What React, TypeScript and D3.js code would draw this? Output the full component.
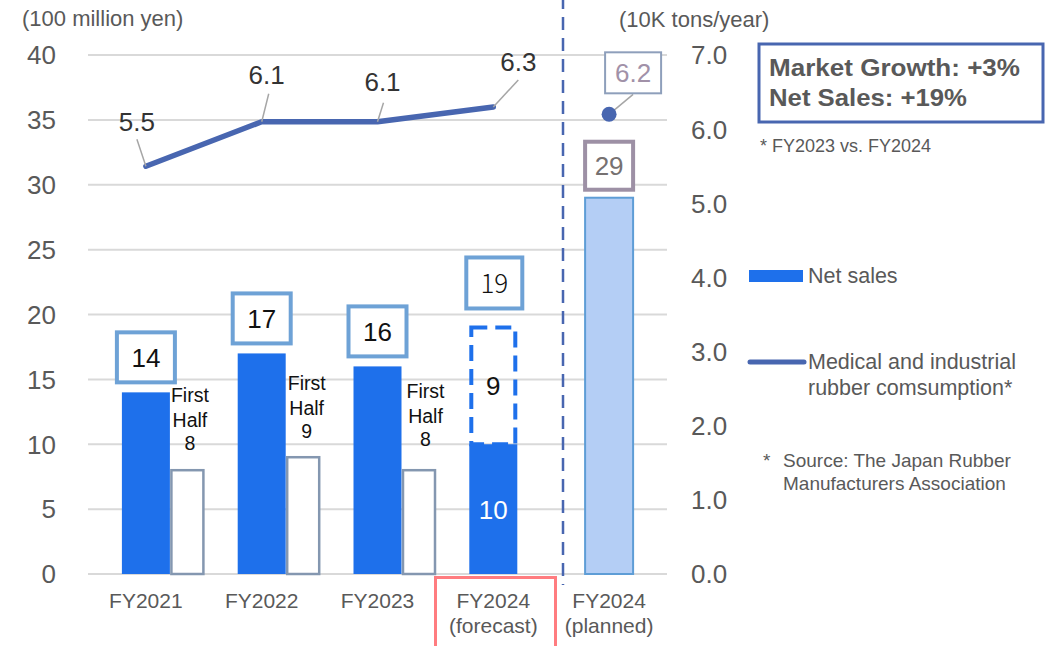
import React from "react";
import * as d3 from "d3";

// ---- data ----
const categories = ["FY2021", "FY2022", "FY2023", "FY2024", "FY2024"];
const subLabels = ["", "", "", "(forecast)", "(planned)"];
const netSales = [14, 17, 16, 19, 29];
const firstHalf = [8, 9, 8, 10];
const secondHalfForecast = 9;
const consumption = [5.5, 6.1, 6.1, 6.3, 6.2];
const leftTicks = [0, 5, 10, 15, 20, 25, 30, 35, 40];
const rightTicks = [0, 1, 2, 3, 4, 5, 6, 7];

// ---- layout ----
const W = 1045;
const H = 646;
const FONT = "'Liberation Sans', Arial, Helvetica, sans-serif";
const BLUE = "#1e70eb";
const LINE = "#4866b0";
const GRID = "#d9d9d9";
const TEXT = "#595959";

// label offsets for the consumption values (text centre and leader start relative to point)
const lineLabelPos = [
  { dx: -9, dy: -45, lx: -9, ly: -27 },
  { dx: 5, dy: -47, lx: 7, ly: -28 },
  { dx: 5, dy: -40, lx: 6, ly: -19 },
  { dx: 25, dy: -45, lx: 25, ly: -27 },
];
// "First Half n" annotation placement beside each half-year bar
const halfNote = [
  { dx: 44, y: 402 },
  { dx: 45, y: 390 },
  { dx: 48, y: 398 },
];

export default function App() {
  const x = d3
    .scaleBand<number>()
    .domain(d3.range(categories.length))
    .range([88, 667])
    .paddingInner(0)
    .paddingOuter(0);
  const yL = d3.scaleLinear().domain([0, 40]).range([574, 55]);
  const yR = d3.scaleLinear().domain([0, 7]).range([574, 55]);
  const cx = (i: number) => (x(i) as number) + x.bandwidth() / 2;

  const barW = 48;
  const halfW = 32;
  const nHist = 4;

  const linePts = consumption.slice(0, nHist).map((v, i) => [cx(i), yR(v)] as [number, number]);
  const linePath = d3.line()(linePts) as string;

  const planIdx = 4;
  const fcIdx = 3;

  return (
    <svg
      width={W}
      height={H}
      style={{ position: "absolute", left: 0, top: 0, background: "#fff" }}
      fontFamily={FONT}
    >
      <rect width={W} height={H} fill="#fff" />

      {/* gridlines */}
      {leftTicks.map((t) => (
        <line key={t} x1={88} x2={667} y1={yL(t)} y2={yL(t)} stroke={GRID} strokeWidth={2} />
      ))}

      {/* left axis */}
      {leftTicks.map((t) => (
        <text key={t} x={56} y={yL(t)} dy="0.36em" textAnchor="end" fontSize={26} fill={TEXT}>
          {t}
        </text>
      ))}
      <text x={22} y={26} fontSize={22} fill={TEXT}>
        (100 million yen)
      </text>

      {/* right axis */}
      {rightTicks.map((t) => (
        <text key={t} x={691} y={yR(t)} dy="0.36em" fontSize={26} fill={TEXT}>
          {t.toFixed(1)}
        </text>
      ))}
      <text x={619} y={27} fontSize={22} fill={TEXT}>
        (10K tons/year)
      </text>

      {/* historical full-year bars and first-half bars */}
      {d3.range(3).map((i) => (
        <g key={i}>
          <rect x={cx(i) - barW / 2} y={yL(netSales[i])} width={barW} height={yL(0) - yL(netSales[i])} fill={BLUE} />
          <rect
            x={cx(i) + barW / 2 + 1.5}
            y={yL(firstHalf[i])}
            width={halfW}
            height={yL(0) - yL(firstHalf[i])}
            fill="#fff"
            stroke="#8497b0"
            strokeWidth={2.5}
          />
          <rect
            x={cx(i) - 29}
            y={yL(netSales[i]) - 60}
            width={58}
            height={50}
            fill="#fff"
            stroke="#6ea2d6"
            strokeWidth={4}
          />
          <text x={cx(i)} y={yL(netSales[i]) - 35} dy="0.36em" textAnchor="middle" fontSize={26} fill="#111">
            {netSales[i]}
          </text>
          <text textAnchor="middle" fontSize={19.5} fill="#111">
            <tspan x={cx(i) + halfNote[i].dx} y={halfNote[i].y}>First</tspan>
            <tspan x={cx(i) + halfNote[i].dx} dy={24.5}>Half</tspan>
            <tspan x={cx(i) + halfNote[i].dx} dy={23.5}>{firstHalf[i]}</tspan>
          </text>
        </g>
      ))}

      {/* FY2024 forecast: first half solid, second half dashed */}
      <rect
        x={cx(fcIdx) - barW / 2}
        y={yL(firstHalf[fcIdx])}
        width={barW}
        height={yL(0) - yL(firstHalf[fcIdx])}
        fill={BLUE}
      />
      <rect
        x={cx(fcIdx) - barW / 2 + 2}
        y={yL(netSales[fcIdx])}
        width={barW - 4}
        height={yL(firstHalf[fcIdx]) - yL(netSales[fcIdx])}
        fill="none"
        stroke={BLUE}
        strokeWidth={4}
        strokeDasharray="16 8"
      />
      <text
        x={cx(fcIdx)}
        y={yL(firstHalf[fcIdx]) / 2 + yL(netSales[fcIdx]) / 2}
        dy="0.36em"
        textAnchor="middle"
        fontSize={26}
        fill="#111"
      >
        {secondHalfForecast}
      </text>
      <text x={cx(fcIdx)} y={yL(firstHalf[fcIdx] / 2) + 1} dy="0.36em" textAnchor="middle" fontSize={26} fill="#fff">
        {firstHalf[fcIdx]}
      </text>
      <rect
        x={cx(fcIdx) - 27}
        y={yL(netSales[fcIdx]) - 70}
        width={56}
        height={51}
        fill="#fff"
        stroke="#6ea2d6"
        strokeWidth={4}
      />
      <text
        x={cx(fcIdx) + 1}
        y={yL(netSales[fcIdx]) - 44}
        dy="0.36em"
        textAnchor="middle"
        fontSize={26}
        fill="#111"
        fontFamily="'Noto Sans CJK JP', sans-serif"
        fontWeight={300}
      >
        {netSales[fcIdx]}
      </text>

      {/* FY2024 planned */}
      <rect
        x={cx(planIdx) - barW / 2}
        y={yL(netSales[planIdx])}
        width={barW}
        height={yL(0) - yL(netSales[planIdx])}
        fill="#b4cef5"
        stroke="#5e9dd6"
        strokeWidth={2}
      />
      <rect
        x={cx(planIdx) - 24}
        y={yL(netSales[planIdx]) - 56}
        width={48}
        height={48}
        fill="#fff"
        stroke="#9d90a5"
        strokeWidth={4}
      />
      <text x={cx(planIdx)} y={yL(netSales[planIdx]) - 32} dy="0.36em" textAnchor="middle" fontSize={26} fill="#767171">
        {netSales[planIdx]}
      </text>

      {/* consumption line */}
      <path d={linePath} fill="none" stroke={LINE} strokeWidth={5.5} strokeLinecap="round" strokeLinejoin="round" />
      {linePts.map(([px, py], i) => {
        const p = lineLabelPos[i];
        return (
          <g key={i}>
            <line x1={px + p.lx} y1={py + p.ly} x2={px} y2={py} stroke="#a6a6a6" strokeWidth={1.5} />
            <text x={px + p.dx} y={py + p.dy} dy="0.36em" textAnchor="middle" fontSize={26} fill="#333">
              {consumption[i].toFixed(1)}
            </text>
          </g>
        );
      })}

      {/* planned consumption point */}
      <line x1={cx(planIdx) + 24} y1={yR(consumption[planIdx]) - 20} x2={cx(planIdx)} y2={yR(consumption[planIdx])} stroke="#a6a6a6" strokeWidth={1.5} />
      <circle cx={cx(planIdx)} cy={yR(consumption[planIdx])} r={7.5} fill={LINE} />
      <rect
        x={cx(planIdx) - 4}
        y={yR(consumption[planIdx]) - 62}
        width={56}
        height={41}
        fill="#fff"
        stroke="#8e9fbb"
        strokeWidth={2}
      />
      <text
        x={cx(planIdx) + 24}
        y={yR(consumption[planIdx]) - 41.5}
        dy="0.36em"
        textAnchor="middle"
        fontSize={26}
        fill="#a191a8"
      >
        {consumption[planIdx].toFixed(1)}
      </text>

      {/* divider between forecast and plan */}
      <line x1={563} x2={563} y1={-4} y2={585} stroke={LINE} strokeWidth={2.5} strokeDasharray="13 8" />

      {/* category labels */}
      {categories.map((c, i) => (
        <text key={i} textAnchor="middle" fontSize={21} fill={TEXT}>
          <tspan x={cx(i)} y={608}>{c}</tspan>
          {subLabels[i] && (
            <tspan x={cx(i)} y={633}>{subLabels[i]}</tspan>
          )}
        </text>
      ))}
      <rect x={435.5} y={577.5} width={120} height={80} fill="none" stroke="#ff7c80" strokeWidth={3} />

      {/* growth box */}
      <rect x={759} y={44} width={284} height={78} fill="#fff" stroke={LINE} strokeWidth={3} />
      <text x={769} y={76} fontSize={23} fontWeight="bold" fill={TEXT} textLength={251} lengthAdjust="spacingAndGlyphs">
        Market Growth: +3%
      </text>
      <text x={769} y={106} fontSize={23} fontWeight="bold" fill={TEXT} textLength={198} lengthAdjust="spacingAndGlyphs">
        Net Sales: +19%
      </text>
      <text x={760} y={152} fontSize={18} fill={TEXT}>
        * FY2023 vs. FY2024
      </text>

      {/* legend */}
      <rect x={749} y={270} width={54} height={12} fill={BLUE} />
      <text x={808} y={283} fontSize={21.5} fill={TEXT}>
        Net sales
      </text>
      <line x1={750} x2={804} y1={362} y2={362} stroke={LINE} strokeWidth={5} strokeLinecap="round" />
      <text fontSize={21.5} fill={TEXT}>
        <tspan x={808} y={369}>Medical and industrial</tspan>
        <tspan x={808} y={395}>rubber comsumption*</tspan>
      </text>

      {/* source note */}
      <text fontSize={19} fill={TEXT}>
        <tspan x={763} y={467}>*</tspan>
        <tspan x={783} y={467}>Source: The Japan Rubber</tspan>
        <tspan x={783} y={490}>Manufacturers Association</tspan>
      </text>
    </svg>
  );
}
